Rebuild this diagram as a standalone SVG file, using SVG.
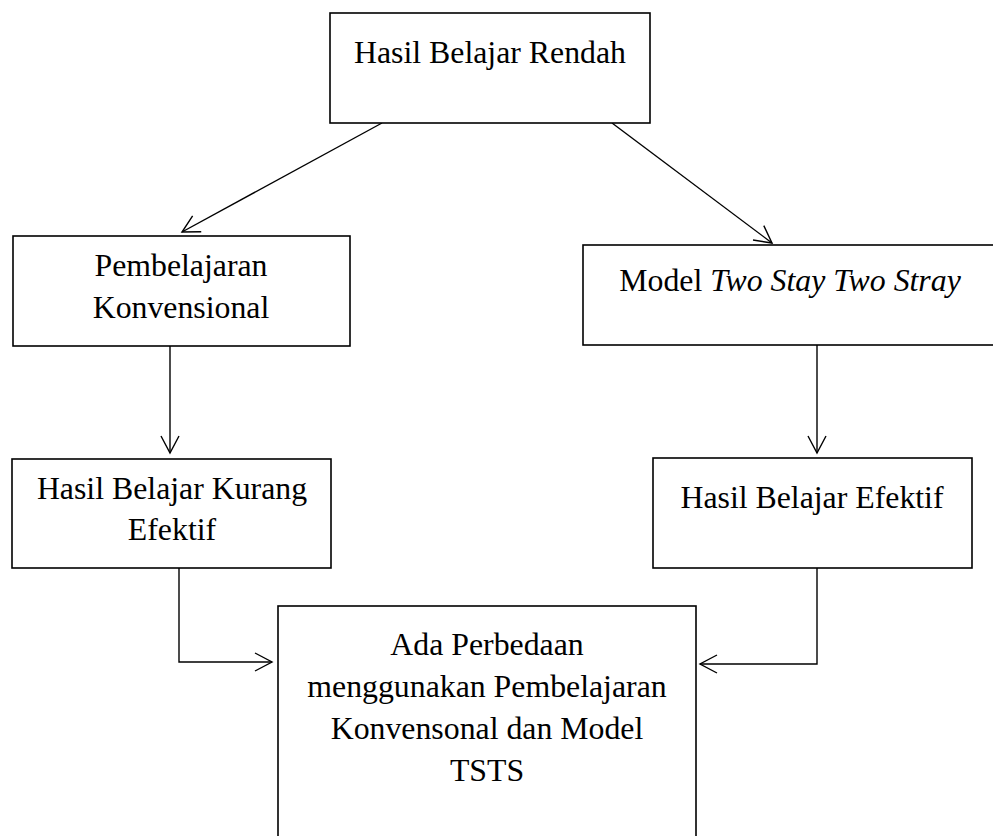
<svg xmlns="http://www.w3.org/2000/svg" width="993" height="836" viewBox="0 0 993 836">
<style>
.box{fill:#fff;stroke:#000;stroke-width:1.6}
.t{font-family:"Liberation Serif","Times New Roman",serif;font-size:31.8px;fill:#000;text-anchor:middle}
.c{fill:none;stroke:#000;stroke-width:1.4}
</style>
<defs>
<marker id="arr" viewBox="0 0 20 20" refX="18" refY="10" markerWidth="20" markerHeight="20" markerUnits="userSpaceOnUse" orient="auto">
<path d="M1,1 L18,10 L1,19" fill="none" stroke="#000" stroke-width="1.4"/>
</marker>
</defs>
<rect width="993" height="836" fill="#fff"/>
<g id="connectors">
<line class="c" x1="382" y1="123" x2="182" y2="232" marker-end="url(#arr)"/>
<line class="c" x1="612" y1="123" x2="772" y2="243" marker-end="url(#arr)"/>
<line class="c" x1="170" y1="346" x2="170" y2="453" marker-end="url(#arr)"/>
<line class="c" x1="817" y1="345" x2="817" y2="453" marker-end="url(#arr)"/>
<polyline class="c" points="179,568 179,662 272,662" marker-end="url(#arr)"/>
<polyline class="c" points="817,568 817,664 700,664" marker-end="url(#arr)"/>
</g>
<g id="n-rendah">
<rect class="box" x="330" y="13" width="320" height="110"/>
<text class="t" x="490" y="63">Hasil Belajar Rendah</text>
</g>
<g id="n-konvensional">
<rect class="box" x="13" y="236" width="337" height="110"/>
<text class="t" x="181" y="276">Pembelajaran</text>
<text class="t" x="181" y="318">Konvensional</text>
</g>
<g id="n-tsts">
<rect class="box" x="583" y="245" width="420" height="100"/>
<text class="t" x="790" y="291">Model <tspan font-style="italic">Two Stay Two Stray</tspan></text>
</g>
<g id="n-kurang">
<rect class="box" x="12" y="459" width="319" height="109"/>
<text class="t" x="172" y="499">Hasil Belajar Kurang</text>
<text class="t" x="172" y="540">Efektif</text>
</g>
<g id="n-efektif">
<rect class="box" x="653" y="458" width="319" height="110"/>
<text class="t" x="812" y="508">Hasil Belajar Efektif</text>
</g>
<g id="n-perbedaan">
<rect class="box" x="278" y="606" width="418" height="240"/>
<text class="t" x="487" y="655">Ada Perbedaan</text>
<text class="t" x="487" y="697">menggunakan Pembelajaran</text>
<text class="t" x="487" y="739">Konvensonal dan Model</text>
<text class="t" x="487" y="781">TSTS</text>
</g>
</svg>
